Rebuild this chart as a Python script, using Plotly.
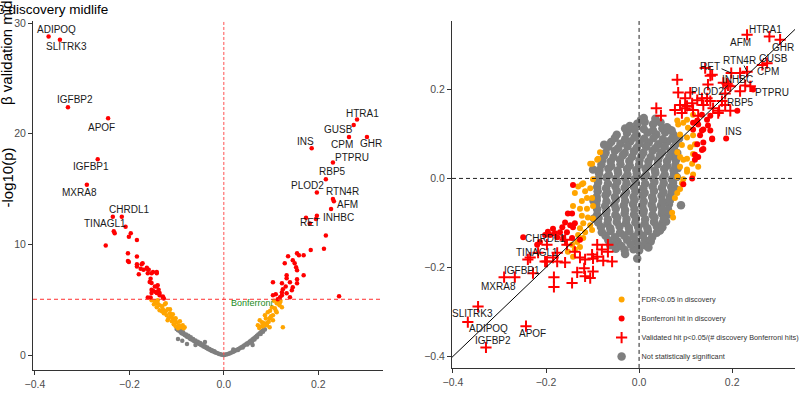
import plotly.graph_objects as go

# ---------------- Left panel (volcano) data ----------------
L_gray_x = [-0.100,-0.097,-0.094,-0.092,-0.090,-0.088,-0.085,-0.083,-0.080,-0.078,-0.075,-0.072,-0.070,-0.067,-0.064,-0.061,-0.058,-0.055,-0.052,-0.049,-0.046,-0.043,-0.040,-0.037,-0.034,-0.031,-0.028,-0.025,-0.022,-0.019,-0.016,-0.013,-0.010,-0.007,-0.004,-0.001,
            -0.095,-0.090,-0.086,-0.080,-0.075,-0.070,-0.065,-0.060,-0.055,-0.050,-0.045,-0.040,-0.035,-0.030,-0.025,-0.020,
            -0.097,-0.078,-0.040,-0.088,-0.060,
            0.001,0.004,0.007,0.010,0.013,0.016,0.019,0.022,0.025,0.028,0.031,0.034,0.037,0.040,0.043,0.046,0.049,0.052,0.055,0.058,0.061,0.064,0.067,0.070,0.073,0.076,0.079,0.082,0.085,
            0.030,0.040,0.050,0.060,0.070,0.078,0.083,0.087,0.065,0.055,0.061,0.020]
L_gray_y = [2.35,2.25,2.20,2.10,2.00,1.95,1.90,1.82,1.75,1.65,1.60,1.50,1.45,1.38,1.30,1.22,1.15,1.08,1.00,0.93,0.86,0.78,0.72,0.64,0.57,0.50,0.43,0.37,0.31,0.25,0.20,0.15,0.10,0.06,0.03,0.01,
            2.35,2.20,2.05,1.85,1.75,1.60,1.45,1.32,1.20,1.08,0.95,0.80,0.68,0.55,0.44,0.33,
            1.45,0.99,1.17,1.30,0.90,
            0.01,0.04,0.08,0.12,0.17,0.22,0.28,0.34,0.40,0.47,0.54,0.62,0.70,0.78,0.86,0.95,1.04,1.12,1.22,1.32,1.42,1.52,1.63,1.74,1.85,1.96,2.08,2.20,2.32,
            0.45,0.68,0.95,1.25,1.60,1.90,2.10,2.30,1.40,1.10,0.90,0.50]

L_fdr_x = [-0.153,-0.146,-0.140,-0.148,-0.136,-0.142,-0.131,-0.125,-0.129,-0.136,-0.123,-0.119,-0.127,-0.114,-0.121,-0.112,-0.108,-0.117,-0.104,-0.110,-0.100,-0.106,-0.095,-0.102,-0.091,-0.087,-0.097,-0.085,-0.114,-0.140,-0.123,-0.108,-0.102,-0.093,-0.142,-0.131,-0.119,-0.083,
           0.085,0.076,0.087,0.093,0.102,0.112,0.119,0.108,0.097,0.104,0.091,0.097,0.125,0.083,0.112,0.123,0.104,0.081,0.072,0.114,
           0.118,0.110,0.100,0.095,0.089,0.080,0.075,0.115,0.120,0.106,0.098,0.092]
L_fdr_y = [4.95,4.86,4.68,4.59,4.50,4.32,4.41,4.59,4.14,4.05,3.96,4.14,3.78,3.78,3.60,3.51,3.33,3.33,3.15,3.06,2.97,2.79,2.70,2.61,2.52,2.70,2.43,2.43,4.14,4.95,4.68,3.69,3.33,3.06,4.77,3.96,3.15,2.52,
           2.88,3.15,3.60,3.87,4.32,4.68,4.77,4.23,3.33,3.15,2.70,2.52,2.52,2.61,3.87,4.32,3.60,2.97,2.70,4.68,
           4.50,4.00,3.50,3.00,3.30,2.60,2.45,4.90,4.90,4.90,4.00,2.90]

L_bonf_x = [-0.371,-0.347,-0.330,-0.245,-0.267,-0.290,-0.235,-0.216,-0.231,-0.233,-0.208,-0.197,-0.201,-0.184,-0.250,
            -0.203,-0.203,-0.184,-0.184,-0.172,-0.176,-0.180,-0.163,-0.159,-0.150,-0.142,-0.155,-0.153,-0.146,-0.140,-0.138,-0.150,-0.142,-0.153,-0.155,-0.136,-0.129,-0.127,
            -0.201,-0.184,-0.174,-0.170,-0.163,-0.161,-0.153,-0.142,-0.157,-0.142,-0.153,-0.144,-0.136,-0.161,-0.129,
            0.282,0.275,0.265,0.303,0.186,0.231,0.216,0.197,0.231,0.233,0.227,0.174,0.182,0.197,0.195,0.216,0.212,0.184,
            0.104,0.123,0.110,0.123,0.133,0.140,0.125,0.146,0.155,0.140,0.123,0.104,0.133,0.133,0.169,0.155,0.155,0.153,0.150,0.129,0.136,0.155,0.159,0.169,0.146,0.244,0.119,0.114,0.131,0.144]
L_bonf_y = [28.8,28.5,22.4,21.4,17.7,15.4,12.5,12.5,11.0,11.2,11.6,11.0,10.7,10.4,9.9,
            9.2,8.5,8.9,8.2,8.3,7.8,7.3,7.9,7.7,7.5,7.5,6.9,6.5,6.2,6.3,5.9,5.8,5.6,5.6,5.2,5.4,5.3,5.1,
            8.4,8.0,8.2,7.7,7.8,7.4,7.4,7.4,6.6,6.2,5.9,5.7,5.6,5.2,5.2,
            21.3,20.8,19.7,19.7,18.7,17.4,15.9,14.7,14.1,13.9,13.2,12.4,11.9,12.6,12.3,10.8,9.6,9.5,
            5.41,5.68,5.50,5.41,5.59,5.23,5.95,6.13,6.49,6.58,6.49,6.58,6.94,7.21,7.21,6.85,7.66,7.93,8.29,8.29,8.92,9.19,9.01,9.01,8.56,5.32,5.23,5.05,6.20,5.86]

L_lab = ["ADIPOQ","SLITRK3","IGFBP2","APOF","IGFBP1","MXRA8","CHRDL1","TINAGL1",
         "HTRA1","GUSB","CPM","GHR","INS","PTPRU","RBP5","PLOD2","RTN4R","AFM","INHBC","RET"]
L_lab_x = [-0.354,-0.333,-0.316,-0.258,-0.282,-0.305,-0.200,-0.252,
           0.294,0.242,0.250,0.312,0.172,0.271,0.231,0.178,0.252,0.261,0.242,0.182]
L_lab_y = [29.4,27.9,23.1,20.6,17.0,14.7,13.2,11.9,
           21.8,20.4,19.0,19.1,19.3,17.9,16.6,15.3,14.8,13.6,12.4,12.0]

BONF_P = 5.04
# ---------------- Right panel (beta vs beta) data ----------------
R_gray_x = [-0.004,0.012,0.030,0.046,-0.026,
            -0.048,-0.026,-0.005,0.018,0.037,0.056,0.074,
            -0.060,-0.040,-0.019,0.001,0.021,0.041,0.061,0.080,
            -0.072,-0.052,-0.031,-0.011,0.009,0.029,0.049,0.068,0.082,
            -0.079,-0.061,-0.041,-0.021,0.001,0.020,0.041,0.060,0.079,
            -0.085,-0.066,-0.046,-0.026,-0.006,0.014,0.034,0.054,0.074,0.083,
            -0.088,-0.070,-0.050,-0.030,-0.010,0.011,0.031,0.051,0.070,0.081,
            -0.090,-0.071,-0.051,-0.031,-0.011,0.009,0.029,0.049,0.069,0.078,
            -0.091,-0.072,-0.052,-0.032,-0.012,0.008,0.028,0.048,0.066,
            -0.092,-0.073,-0.053,-0.033,-0.013,0.007,0.027,0.047,0.064,
            -0.090,-0.071,-0.051,-0.031,-0.011,0.009,0.029,0.049,0.062,
            -0.088,-0.068,-0.048,-0.028,-0.008,0.012,0.032,0.050,0.058,
            -0.080,-0.061,-0.041,-0.021,-0.001,0.019,0.038,0.045,
            -0.066,-0.046,-0.026,-0.006,0.013,0.025,
            -0.050,-0.031,-0.012,0.000,-0.004,
            -0.030,-0.010,0.010,0.030,0.050,0.065,
            -0.052,-0.030,-0.010,0.011,0.031,0.051,0.071,
            -0.066,-0.045,-0.025,-0.005,0.015,0.035,0.055,0.075,
            -0.075,-0.055,-0.035,-0.015,0.005,0.025,0.045,0.065,0.080,
            -0.081,-0.060,-0.040,-0.020,0.000,0.020,0.040,0.060,0.078,
            -0.086,-0.065,-0.045,-0.025,-0.005,0.015,0.035,0.055,0.075,
            -0.088,-0.067,-0.047,-0.027,-0.007,0.013,0.033,0.053,0.073,
            -0.089,-0.068,-0.048,-0.028,-0.008,0.012,0.032,0.052,0.070,
            -0.091,-0.070,-0.050,-0.030,-0.010,0.010,0.030,0.050,0.066,
            -0.090,-0.070,-0.050,-0.030,-0.010,0.010,0.030,0.050,0.062,
            -0.087,-0.067,-0.047,-0.027,-0.007,0.013,0.033,0.053,
            -0.082,-0.062,-0.042,-0.022,-0.002,0.018,0.038,0.050,
            -0.072,-0.052,-0.032,-0.012,0.008,0.028,
            -0.058,-0.038,-0.018,0.000,0.012,
            0.010,0.035,-0.020,0.060,-0.099,-0.098,-0.097,-0.075,0.090,0.086,-0.030,0.020,0.004,-0.062,0.070]
R_gray_y = [0.123,0.127,0.122,0.126,0.108,
            0.098,0.102,0.097,0.103,0.099,0.104,0.098,
            0.082,0.078,0.083,0.079,0.081,0.077,0.083,0.079,
            0.058,0.062,0.057,0.061,0.058,0.062,0.059,0.061,0.057,
            0.041,0.038,0.042,0.039,0.041,0.038,0.042,0.039,0.041,
            0.019,0.022,0.018,0.021,0.019,0.022,0.018,0.021,0.019,0.023,
            -0.002,0.002,-0.001,0.001,-0.002,0.002,-0.001,0.001,-0.002,0.003,
            -0.019,-0.022,-0.018,-0.021,-0.019,-0.022,-0.018,-0.021,-0.019,-0.023,
            -0.041,-0.038,-0.042,-0.039,-0.041,-0.038,-0.042,-0.039,-0.041,
            -0.058,-0.062,-0.059,-0.061,-0.058,-0.062,-0.059,-0.061,-0.058,
            -0.081,-0.078,-0.082,-0.079,-0.081,-0.078,-0.082,-0.079,-0.081,
            -0.099,-0.102,-0.098,-0.101,-0.099,-0.102,-0.098,-0.101,-0.097,
            -0.121,-0.118,-0.122,-0.119,-0.121,-0.118,-0.122,-0.117,
            -0.139,-0.142,-0.138,-0.141,-0.139,-0.142,
            -0.158,-0.161,-0.159,-0.162,-0.180,
            0.112,0.109,0.111,0.108,0.112,0.110,
            0.091,0.088,0.092,0.089,0.091,0.088,0.090,
            0.071,0.068,0.072,0.069,0.071,0.068,0.072,0.070,
            0.051,0.048,0.052,0.049,0.051,0.048,0.052,0.049,0.050,
            0.031,0.028,0.032,0.029,0.031,0.028,0.032,0.029,0.030,
            0.011,0.008,0.012,0.009,0.011,0.008,0.012,0.009,0.010,
            -0.009,-0.012,-0.008,-0.011,-0.009,-0.012,-0.008,-0.011,-0.010,
            -0.029,-0.032,-0.028,-0.031,-0.029,-0.032,-0.028,-0.031,-0.030,
            -0.049,-0.052,-0.048,-0.051,-0.049,-0.052,-0.048,-0.051,-0.050,
            -0.069,-0.072,-0.068,-0.071,-0.069,-0.072,-0.068,-0.071,-0.070,
            -0.089,-0.092,-0.088,-0.091,-0.089,-0.092,-0.088,-0.091,
            -0.109,-0.112,-0.108,-0.111,-0.109,-0.112,-0.108,-0.110,
            -0.129,-0.132,-0.128,-0.131,-0.129,-0.132,
            -0.149,-0.152,-0.148,-0.151,-0.150,
            0.136,0.134,0.118,0.115,0.020,-0.050,-0.090,0.076,-0.060,0.090,-0.170,-0.155,0.132,-0.150,0.108]

R_fdr_x = [-0.123,-0.116,-0.105,-0.099,-0.101,-0.090,-0.084,-0.112,-0.101,-0.123,-0.142,-0.127,-0.112,-0.099,-0.123,-0.110,-0.099,-0.120,-0.105,-0.127,-0.116,-0.101,-0.131,-0.120,-0.133,-0.144,-0.127,-0.138,-0.153,-0.142,
           -0.105,-0.088,-0.120,-0.131,-0.138,
           0.084,0.095,0.105,0.088,0.103,0.116,0.092,0.110,0.120,0.088,0.103,0.116,0.114,0.127,0.088,0.103,0.082,0.095,0.116,0.088,0.082,0.095,0.103,0.082,0.077,0.071,0.073,0.092,0.103,0.116,0.082]
R_fdr_y = [-0.013,-0.029,-0.022,-0.002,0.033,0.042,0.059,-0.044,-0.044,-0.051,-0.062,-0.068,-0.068,-0.062,-0.084,-0.088,-0.090,-0.101,-0.105,-0.112,-0.121,-0.116,-0.127,-0.134,-0.143,-0.149,-0.154,-0.160,-0.165,-0.176,
           0.033,0.044,-0.011,-0.018,-0.033,
           0.121,0.125,0.114,0.099,0.092,0.097,0.075,0.070,0.077,0.048,0.044,0.055,0.033,0.026,0.026,0.015,0.004,-0.002,0.009,-0.024,0.059,0.042,0.020,-0.033,-0.044,-0.077,-0.088,-0.011,0.132,0.143,0.130]

R_bonf_x = [-0.249,-0.142,-0.153,-0.144,-0.159,-0.148,-0.142,-0.138,-0.155,-0.170,-0.181,-0.191,-0.202,-0.213,-0.219,-0.144,-0.127,-0.176,-0.163,-0.196,-0.185,-0.165,
            0.127,0.138,0.148,0.153,0.131,0.157,0.125,0.138,0.120,0.127,0.187,0.116,0.135,0.157,0.138,0.135,0.120,0.114,0.095,0.125,0.146,0.135,0.153,0.211,0.245,0.116]
R_bonf_y = [-0.132,-0.015,-0.079,-0.079,-0.099,-0.105,-0.110,-0.101,-0.121,-0.121,-0.123,-0.127,-0.127,-0.143,-0.149,-0.134,-0.138,-0.132,-0.134,-0.120,-0.113,-0.110,
            0.121,0.110,0.119,0.108,0.097,0.090,0.077,0.066,0.053,0.048,0.090,0.110,0.108,0.088,0.081,0.064,0.042,0.000,-0.013,0.130,0.132,0.143,0.141,0.152,0.200,0.125]

R_val_x = [0.280,0.232,0.303,0.265,0.275,0.232,0.217,0.198,0.191,0.228,0.217,0.196,0.181,0.157,0.142,0.153,0.148,0.189,0.196,0.185,0.170,0.153,0.135,0.114,0.099,0.077,0.127,0.082,0.084,0.110,0.099,0.088,0.103,0.125,0.146,0.138,0.159,0.172,0.037,0.047,0.092,0.116,0.178,0.185,0.239,
           -0.346,-0.368,-0.329,-0.243,-0.290,-0.228,-0.267,-0.183,-0.183,-0.144,-0.133,-0.118,-0.116,-0.105,-0.099,-0.239,-0.202,-0.176,-0.159,-0.116,-0.099,-0.077,-0.058,-0.090,-0.234,-0.217,-0.198,-0.176,-0.155,-0.159,-0.138,-0.127,-0.090,-0.080,-0.067,-0.067,-0.101,-0.185,-0.198]
R_val_y = [0.319,0.323,0.312,0.255,0.259,0.240,0.237,0.237,0.209,0.209,0.196,0.207,0.215,0.233,0.248,0.231,0.211,0.213,0.152,0.165,0.147,0.174,0.180,0.169,0.158,0.154,0.141,0.222,0.193,0.193,0.180,0.165,0.163,0.176,0.180,0.165,0.158,0.152,0.158,0.141,0.147,0.154,0.174,0.191,0.207,
           -0.288,-0.323,-0.380,-0.332,-0.222,-0.213,-0.222,-0.222,-0.244,-0.235,-0.211,-0.202,-0.220,-0.224,-0.209,-0.182,-0.187,-0.187,-0.189,-0.182,-0.180,-0.185,-0.187,-0.176,-0.178,-0.167,-0.149,-0.167,-0.149,-0.138,-0.165,-0.178,-0.149,-0.160,-0.149,-0.165,-0.171,-0.178,-0.187]

R_lab = ["HTRA1","AFM","GHR","GUSB","RTN4R","CPM","RET","INHBC","PLOD2","PTPRU","RBP5","INS",
         "CHRDL1","TINAGL1","IGFBP1","MXRA8","SLITRK3","ADIPOQ","IGFBP2","APOF"]
R_lab_x = [0.271,0.217,0.310,0.288,0.215,0.277,0.153,0.211,0.146,0.286,0.217,0.202,
           -0.202,-0.219,-0.252,-0.303,-0.357,-0.323,-0.314,-0.230]
R_lab_y = [0.334,0.305,0.295,0.270,0.266,0.240,0.251,0.222,0.196,0.193,0.171,0.105,
           -0.134,-0.167,-0.207,-0.242,-0.303,-0.338,-0.365,-0.349]

# connectors: (tail x, tail y, tip x, tip y)
R_conn_tail_x = [0.174,0.224,0.178]
R_conn_tail_y = [0.248,0.257,0.198]
R_conn_tip_x = [0.198,0.232,0.191]
R_conn_tip_y = [0.237,0.240,0.209]

TICKS = [-0.4,-0.2,0.0,0.2]
LY_TICKS = [0,10,20,30]
RY_TICKS = [-0.4,-0.2,0.0,0.2]

RED = "#FF0000"; ORANGE = "#FFA500"; GRAY = "#7F7F7F"
FONT = "Liberation Sans, Arial, sans-serif"

fig = go.Figure()
# left panel
fig.add_trace(go.Scatter(x=L_gray_x, y=L_gray_y, mode="markers", marker=dict(color=GRAY, size=4.5),
                         showlegend=False, xaxis="x", yaxis="y", hoverinfo="skip"))
fig.add_trace(go.Scatter(x=L_fdr_x, y=L_fdr_y, mode="markers", marker=dict(color=ORANGE, size=4.5),
                         showlegend=False, xaxis="x", yaxis="y"))
fig.add_trace(go.Scatter(x=L_bonf_x, y=L_bonf_y, mode="markers", marker=dict(color=RED, size=4.5),
                         showlegend=False, xaxis="x", yaxis="y"))
# right panel
fig.add_trace(go.Scatter(x=R_gray_x, y=R_gray_y, mode="markers", marker=dict(color=GRAY, size=8.5),
                         name="Not statistically significant", legendrank=4, xaxis="x2", yaxis="y2"))
fig.add_trace(go.Scatter(x=R_fdr_x, y=R_fdr_y, mode="markers", marker=dict(color=ORANGE, size=6),
                         name="FDR<0.05 in discovery", legendrank=1, xaxis="x2", yaxis="y2"))
fig.add_trace(go.Scatter(x=R_bonf_x, y=R_bonf_y, mode="markers", marker=dict(color=RED, size=6),
                         name="Bonferroni hit in discovery", legendrank=2, xaxis="x2", yaxis="y2"))
fig.add_trace(go.Scatter(x=R_val_x, y=R_val_y, mode="markers",
                         marker=dict(symbol="cross-thin", size=8, line=dict(color=RED, width=2), color=RED),
                         name="Validated hit p<0.05/(# discovery Bonferroni hits)", legendrank=3, xaxis="x2", yaxis="y2"))

ann = []
for t, x, y in zip(L_lab, L_lab_x, L_lab_y):
    ann.append(dict(text=t, x=x, y=y, xref="x", yref="y", showarrow=False,
                    font=dict(size=10, color="#1a1a1a", family=FONT)))
for t, x, y in zip(R_lab, R_lab_x, R_lab_y):
    ann.append(dict(text=t, x=x, y=y, xref="x2", yref="y2", showarrow=False,
                    font=dict(size=10, color="#1a1a1a", family=FONT)))
for tx, ty, hx, hy in zip(R_conn_tail_x, R_conn_tail_y, R_conn_tip_x, R_conn_tip_y):
    ann.append(dict(text="", x=hx, y=hy, ax=tx, ay=ty, xref="x2", yref="y2", axref="x2", ayref="y2",
                    showarrow=True, arrowhead=0, arrowwidth=1, arrowcolor="#1a1a1a"))
ann.append(dict(text="Bonferroni", x=0.011, y=BONF_P - 0.3, xref="x", yref="y", xanchor="left",
                showarrow=False, font=dict(size=9, color="#228B22", family=FONT)))
ann.append(dict(text="-log10(p)", x=0.009, y=0.56, xref="paper", yref="paper", textangle=-90,
                xanchor="center", yanchor="middle", showarrow=False, font=dict(size=15, color="black", family=FONT)))
ann.append(dict(text="β validation midlife", x=0.009, y=0.735, xref="paper", yref="paper", textangle=-90,
                xanchor="center", yanchor="bottom", showarrow=False, font=dict(size=15, color="black", family=FONT)))
ann.append(dict(text="β discovery midlife", x=-0.006, y=1.0, xref="paper", yref="paper", xanchor="left",
                yanchor="top", showarrow=False, font=dict(size=13.5, color="black", family=FONT)))

shapes = [
    dict(type="line", xref="x", yref="y", x0=0, x1=0, y0=-1.35, y1=30.2,
         line=dict(color="#FF5050", width=1, dash="3px,2px")),
    dict(type="line", xref="x", yref="y", x0=-0.404, x1=0.337, y0=BONF_P, y1=BONF_P,
         line=dict(color="#FF3030", width=1, dash="4px,3px")),
    dict(type="line", xref="x2", yref="y2", x0=0, x1=0, y0=-0.426, y1=0.354,
         line=dict(color="#222", width=1, dash="4px,3px"), layer="above"),
    dict(type="line", xref="x2", yref="y2", x0=-0.402, x1=0.335, y0=0, y1=0,
         line=dict(color="#222", width=1, dash="4px,3px"), layer="above"),
    dict(type="line", xref="x2", yref="y2", x0=-0.402, x1=0.335, y0=-0.402, y1=0.335,
         line=dict(color="black", width=1), layer="above"),
]

axis_common = dict(showgrid=False, zeroline=False, showline=True, linecolor="#333", linewidth=1,
                   ticks="outside", ticklen=4, tickcolor="#333", automargin=False,
                   tickfont=dict(size=10.5, color="#4d4d4d", family=FONT))

fig.update_layout(
    width=800, height=403, margin=dict(l=0, r=0, t=0, b=0, autoexpand=False),
    paper_bgcolor="white", plot_bgcolor="white",
    font=dict(family=FONT),
    xaxis=dict(domain=[0.04125, 0.47875], range=[-0.404, 0.337], tickvals=TICKS, tickformat=".1f", anchor="y", **axis_common),
    yaxis=dict(domain=[0.082, 0.948], range=[-1.35, 30.2], tickvals=LY_TICKS, anchor="x", **axis_common),
    xaxis2=dict(domain=[0.565, 0.99375], range=[-0.402, 0.335], tickvals=TICKS, tickformat=".1f", anchor="y2", **axis_common),
    yaxis2=dict(domain=[0.087, 0.948], range=[-0.426, 0.354], tickvals=RY_TICKS, tickformat=".1f", anchor="x2", **axis_common),
    legend=dict(x=0.752, y=0.186, xanchor="left", yanchor="middle", bgcolor="rgba(0,0,0,0)",
                font=dict(size=7.3, color="#333", family=FONT), tracegroupgap=0, itemwidth=30),
    annotations=ann, shapes=shapes,
)

fig.write_html("out.html", config={"displayModeBar": False},
               post_script="document.body.style.margin='0';document.body.style.padding='0';document.body.style.overflow='hidden';")
